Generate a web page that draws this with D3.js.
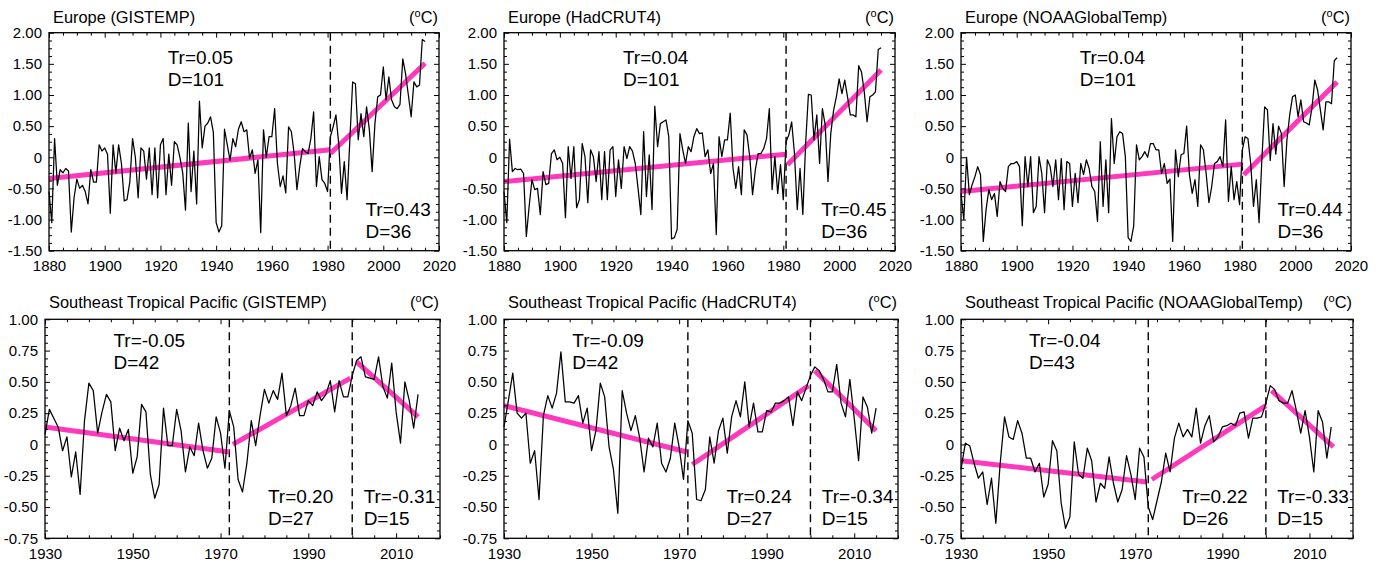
<!DOCTYPE html>
<html><head><meta charset="utf-8">
<script src="https://cdn.jsdelivr.net/npm/d3@7"></script>
<style>
body{margin:0;background:#fff;}
svg{display:block;background:#fff;}
text{font-family:"Liberation Sans", Arial, Helvetica, sans-serif;fill:#000;}
</style></head><body>
<svg id="chart" width="1378" height="562"></svg>
<script>
// ---------------- DATA ----------------
const euroStart = 1880;
const pacStart = 1930;

const euroGISTEMP = [
-0.55,-1.05,0.30,-0.45,-0.20,-0.25,-0.18,-0.22,-1.20,-0.65,
-0.35,-0.50,-0.45,-0.55,-0.75,-0.20,-0.40,-0.40,0.20,0.10,
0.15,0.05,-0.90,0.20,-0.25,0.20,-0.10,-0.70,-0.68,-0.40,
0.30,0.00,-0.65,0.15,0.10,-0.35,0.15,-0.60,0.15,-0.65,
0.20,0.30,-0.60,0.05,-0.45,0.25,0.20,0.00,-0.25,-0.85,
0.55,-0.55,0.10,-0.75,0.90,0.15,0.50,0.55,0.65,0.40,
-1.05,-1.20,-1.10,0.45,0.20,-0.05,0.30,0.17,0.45,0.57,
0.41,0.44,-0.02,0.12,-0.26,-0.04,-1.21,0.44,0.00,0.33,
0.33,0.78,-0.10,-0.47,-0.30,-0.57,0.49,0.41,0.06,-0.52,
-0.15,0.14,0.09,0.06,0.30,0.73,-0.47,0.01,-0.36,-0.42,
-0.55,0.33,0.49,0.68,0.22,-0.58,-0.07,-0.68,0.28,1.21,
1.18,0.28,0.70,0.33,0.81,0.44,-0.23,0.54,0.97,1.00,
1.45,0.92,1.29,0.92,0.81,0.78,0.85,1.58,1.34,1.00,
0.65,1.21,1.13,1.16,1.89,1.86];

const euroHadCRUT4 = [
-0.55,-1.05,0.29,-0.23,-0.18,-0.20,-0.19,-0.26,-1.27,-0.79,
-0.36,-0.52,-0.50,-0.92,-0.23,-0.44,-0.42,0.06,0.12,-0.04,
0.00,-0.10,-0.97,0.17,-0.34,0.17,-0.81,-0.68,0.22,0.01,
-0.73,0.12,0.01,-0.39,0.09,-0.68,0.09,-0.68,0.12,0.17,
-0.63,-0.04,-0.50,0.17,-0.02,0.17,0.10,-0.10,-0.50,-0.92,
0.41,-0.63,0.04,-0.84,0.82,0.17,0.54,0.57,0.60,0.33,
-1.31,-1.29,-1.16,0.38,0.12,-0.10,0.17,0.09,0.33,0.46,
0.38,0.39,0.01,0.12,-0.26,-0.10,-1.24,0.33,0.01,0.28,
0.28,0.71,-0.18,-0.50,-0.15,-0.60,0.44,0.36,0.01,-0.60,
-0.20,0.06,0.06,0.14,0.30,0.78,-0.52,0.01,-0.58,-0.12,
-0.68,0.25,0.36,0.57,0.06,-0.84,-0.18,-0.92,0.22,1.01,
1.00,0.28,0.68,-0.10,0.78,0.52,-0.39,0.38,0.75,0.97,
1.26,1.02,1.24,0.97,0.68,0.68,0.65,1.47,1.37,1.05,
0.57,0.97,1.00,1.05,1.73,1.76];

const euroNOAA = [
-0.58,-1.00,0.00,-0.60,-0.44,-0.31,-0.15,-0.28,-1.35,-0.84,
-0.52,-0.68,-0.58,-0.95,-0.39,-0.50,-0.55,-0.15,-0.10,-0.10,
-0.07,-0.15,-1.10,0.01,-0.47,0.01,-0.89,-0.79,0.01,-0.26,
-0.89,-0.04,-0.15,-0.47,-0.04,-0.68,-0.02,-0.84,-0.07,-0.10,
-0.79,-0.26,-0.73,-0.10,-0.28,-0.04,-0.18,-0.47,-0.55,-1.03,
0.25,-0.79,-0.04,-0.89,0.62,-0.10,0.33,0.41,0.38,0.01,
-1.29,-1.35,-1.10,0.20,-0.04,0.01,0.09,0.00,0.22,0.22,
0.12,0.12,-0.26,-0.10,-0.42,-0.35,-1.35,0.12,-0.31,0.04,
0.06,0.50,-0.28,-0.58,-0.36,-0.79,0.20,0.12,-0.26,-0.73,
-0.47,-0.10,-0.07,0.01,-0.15,0.60,-0.71,-0.15,-0.68,-0.39,
-0.76,0.12,0.33,0.30,-0.10,-0.79,-0.36,-1.05,-0.04,0.81,
0.76,-0.05,0.54,0.05,0.50,0.38,-0.47,0.28,0.68,0.97,
1.00,0.65,0.92,0.57,0.55,0.52,0.80,1.24,1.08,0.76,
0.44,0.89,0.89,0.86,1.55,1.60];

const pacGISTEMP = [
0.08,0.28,0.21,0.14,-0.05,0.06,-0.26,-0.06,-0.40,0.19,
0.49,0.43,0.09,0.26,0.40,0.34,-0.05,0.13,0.03,0.12,
-0.23,-0.10,0.32,0.26,-0.24,-0.43,-0.32,0.29,-0.01,-0.01,
0.28,0.11,-0.22,-0.02,-0.09,0.17,-0.05,-0.19,-0.11,0.22,
0.09,-0.19,0.27,0.14,-0.28,-0.38,-0.15,0.19,-0.01,0.23,
0.44,0.33,0.43,0.36,0.57,0.23,0.31,0.45,0.23,0.23,
0.35,0.31,0.42,0.35,0.40,0.51,0.26,0.51,0.38,0.38,
0.55,0.67,0.70,0.54,0.53,0.52,0.70,0.46,0.37,0.65,
0.26,0.01,0.50,0.35,0.13,0.40];

const pacHadCRUT4 = [
0.14,0.35,0.57,0.25,0.21,0.25,-0.15,-0.05,-0.44,0.23,
0.39,0.29,0.41,0.74,0.34,0.34,0.33,0.39,0.17,0.29,
-0.05,0.11,0.49,0.38,-0.02,-0.20,-0.55,0.43,0.25,0.11,
0.23,0.05,-0.22,0.05,-0.02,0.17,-0.15,-0.22,-0.11,0.17,
-0.02,-0.28,0.19,0.09,-0.44,-0.45,-0.36,0.06,-0.15,0.11,
0.21,-0.07,0.22,0.35,0.22,0.50,0.14,0.33,0.10,0.10,
0.27,0.26,0.33,0.33,0.35,0.38,0.15,0.42,0.35,0.45,
0.55,0.62,0.59,0.52,0.42,0.42,0.64,0.33,0.22,0.52,
0.21,-0.13,0.38,0.30,0.09,0.29];

const pacNOAA = [
-0.20,0.01,-0.01,-0.15,-0.27,-0.22,-0.48,-0.27,-0.63,-0.15,
0.22,0.06,0.04,0.19,0.09,-0.11,-0.11,-0.22,-0.15,-0.42,
-0.32,0.03,-0.05,-0.47,-0.67,-0.58,0.02,-0.24,-0.27,-0.03,
-0.13,-0.46,-0.31,-0.35,-0.10,-0.31,-0.46,-0.36,-0.09,-0.24,
-0.44,-0.03,-0.10,-0.50,-0.60,-0.45,-0.30,-0.07,-0.22,0.05,
0.17,0.06,0.12,0.06,0.29,0.01,0.15,0.23,0.02,0.06,
0.14,0.15,0.17,0.15,0.25,0.26,0.05,0.21,0.21,0.22,
0.33,0.47,0.44,0.35,0.33,0.33,0.43,0.27,0.09,0.27,
0.06,-0.22,0.27,0.18,-0.11,0.14];

// trend segments: [x0, y0, x1, y1]
const euroTrendGISTEMP = [[1880,-0.34,1981,0.12],[1981,0.06,2015,1.51]];
const euroTrendHadCRUT4 = [[1880,-0.39,1981,0.05],[1981.5,-0.12,2015,1.40]];
const euroTrendNOAA = [[1880,-0.55,1981,-0.11],[1981.5,-0.28,2015,1.21]];
const pacTrendGISTEMP = [[1930,0.14,1972,-0.06],[1972.8,0.00,1999.6,0.53],[2001,0.66,2015,0.22]];
const pacTrendHadCRUT4 = [[1930,0.31,1971.8,-0.06],[1973,-0.16,1999.6,0.47],[2001,0.59,2015,0.11]];
const pacTrendNOAA = [[1930,-0.13,1972.7,-0.30],[1973.8,-0.28,2000,0.31],[2001.3,0.43,2015.5,-0.02]];

// breakpoints (dashed lines)
const euroBreaks = [1981];
const pacBreaksGISTEMP = [1972, 2000];
const pacBreaksHadCRUT4 = [1972, 2000];
const pacBreaksNOAA = [1973, 2000];

// trend annotations
const euroNotesGISTEMP = [["Tr=0.05","D=101"],["Tr=0.43","D=36"]];
const euroNotesHadCRUT4 = [["Tr=0.04","D=101"],["Tr=0.45","D=36"]];
const euroNotesNOAA = [["Tr=0.04","D=101"],["Tr=0.44","D=36"]];
const pacNotesGISTEMP = [["Tr=-0.05","D=42"],["Tr=0.20","D=27"],["Tr=-0.31","D=15"]];
const pacNotesHadCRUT4 = [["Tr=-0.09","D=42"],["Tr=0.24","D=27"],["Tr=-0.34","D=15"]];
const pacNotesNOAA = [["Tr=-0.04","D=43"],["Tr=0.22","D=26"],["Tr=-0.33","D=15"]];

const titles = ["Europe (GISTEMP)","Europe (HadCRUT4)","Europe (NOAAGlobalTemp)",
  "Southeast Tropical Pacific (GISTEMP)","Southeast Tropical Pacific (HadCRUT4)","Southeast Tropical Pacific (NOAAGlobalTemp)"];

// ticks
const euroXTicks = [1880,1900,1920,1940,1960,1980,2000,2020];
const euroYTicks = [-1.5,-1,-0.5,0,0.5,1,1.5,2];
const euroYTickLabels = ["-1.50","-1.00","-0.50","0","0.50","1.00","1.50","2.00"];
const pacXTicks = [1930,1950,1970,1990,2010];
const pacYTicks = [-0.75,-0.5,-0.25,0,0.25,0.5,0.75,1];
const pacYTickLabels = ["-0.75","-0.50","-0.25","0","0.25","0.50","0.75","1.00"];

// ---------------- LAYOUT ----------------
const rows = [
  {top:32.7, bottom:250.7, xDomain:[1880,2020], yDomain:[-1.5,2], xTicks:euroXTicks, yTicks:euroYTicks,
   yLabels:euroYTickLabels, xMinor:5, yMinor:0.125, titleY:23,
   notePos:[[1922.6,1.49],[1993.6,-0.94]]},
  {top:319.3, bottom:538.3, xDomain:[1930,2020], yDomain:[-0.75,1], xTicks:pacXTicks, yTicks:pacYTicks,
   yLabels:pacYTickLabels, xMinor:5, yMinor:0.0625, titleY:308,
   notePos:[[1945.6,0.78],[1980.8,-0.47],[2002.6,-0.47]]}
];
const panels = [
  {row:0,left:49,right:439,data:euroGISTEMP,start:euroStart,trend:euroTrendGISTEMP,breaks:euroBreaks,notes:euroNotesGISTEMP,title:titles[0]},
  {row:0,left:504,right:895,data:euroHadCRUT4,start:euroStart,trend:euroTrendHadCRUT4,breaks:euroBreaks,notes:euroNotesHadCRUT4,title:titles[1]},
  {row:0,left:961,right:1351,data:euroNOAA,start:euroStart,trend:euroTrendNOAA,breaks:euroBreaks,notes:euroNotesNOAA,title:titles[2]},
  {row:1,left:45,right:440,data:pacGISTEMP,start:pacStart,trend:pacTrendGISTEMP,breaks:pacBreaksGISTEMP,notes:pacNotesGISTEMP,title:titles[3]},
  {row:1,left:504,right:898,data:pacHadCRUT4,start:pacStart,trend:pacTrendHadCRUT4,breaks:pacBreaksHadCRUT4,notes:pacNotesHadCRUT4,title:titles[4]},
  {row:1,left:961,right:1353,data:pacNOAA,start:pacStart,trend:pacTrendNOAA,breaks:pacBreaksNOAA,notes:pacNotesNOAA,title:titles[5]}
];

const PINK = "#ff38bd";
const MAJ = 5, MIN = 3;
const svg = d3.select("#chart");

function minorVals(d0, d1, step, majors){
  const out = [];
  const n = Math.round((d1 - d0) / step);
  for (let i = 0; i <= n; i++) {
    const v = d0 + i * step;
    if (!majors.some(m => Math.abs(m - v) < 1e-6)) out.push(v);
  }
  return out;
}

function styleAxis(g){
  g.select(".domain").remove();
  g.attr("font-family", '"Liberation Sans", Arial, Helvetica, sans-serif').attr("font-size", 15);
  g.selectAll(".tick line").attr("stroke", "#000").attr("stroke-width", 1);
  g.selectAll(".tick text").attr("fill", "#000");
}

panels.forEach(p => {
  const r = rows[p.row];
  const x = d3.scaleLinear().domain(r.xDomain).range([p.left, p.right]);
  const y = d3.scaleLinear().domain(r.yDomain).range([r.bottom, r.top]);
  const g = svg.append("g");

  // dashed break lines
  p.breaks.forEach(b => {
    g.append("line").attr("x1", x(b)).attr("x2", x(b)).attr("y1", r.top).attr("y2", r.bottom)
      .attr("stroke", "#000").attr("stroke-width", 1.4).attr("stroke-dasharray", "8,5");
  });

  // trend segments
  p.trend.forEach(s => {
    g.append("line").attr("x1", x(s[0])).attr("y1", y(s[1])).attr("x2", x(s[2])).attr("y2", y(s[3]))
      .attr("stroke", PINK).attr("stroke-width", 5);
  });

  // data line
  const line = d3.line().x((d, i) => x(p.start + i)).y(d => y(d));
  g.append("path").datum(p.data).attr("d", line).attr("fill", "none")
    .attr("stroke", "#000").attr("stroke-width", 1.25).attr("stroke-linejoin", "round");

  // axes (ticks inward)
  const xMinor = minorVals(r.xDomain[0], r.xDomain[1], r.xMinor, r.xTicks);
  const yMinor = minorVals(r.yDomain[0], r.yDomain[1], r.yMinor, r.yTicks);

  g.append("g").attr("transform", `translate(0,${r.bottom})`)
    .call(d3.axisBottom(x).tickValues(r.xTicks).tickSize(-MAJ).tickPadding(10).tickFormat(d3.format("d"))).call(styleAxis);
  g.append("g").attr("transform", `translate(0,${r.bottom})`)
    .call(d3.axisBottom(x).tickValues(xMinor).tickSize(-MIN).tickFormat("")).call(styleAxis);
  g.append("g").attr("transform", `translate(0,${r.top})`)
    .call(d3.axisTop(x).tickValues(r.xTicks).tickSize(-MAJ).tickFormat("")).call(styleAxis);
  g.append("g").attr("transform", `translate(0,${r.top})`)
    .call(d3.axisTop(x).tickValues(xMinor).tickSize(-MIN).tickFormat("")).call(styleAxis);

  g.append("g").attr("transform", `translate(${p.left},0)`)
    .call(d3.axisLeft(y).tickValues(r.yTicks).tickSize(-MAJ).tickPadding(7)
      .tickFormat((d, i) => r.yLabels[i])).call(styleAxis);
  g.append("g").attr("transform", `translate(${p.left},0)`)
    .call(d3.axisLeft(y).tickValues(yMinor).tickSize(-MIN).tickFormat("")).call(styleAxis);
  g.append("g").attr("transform", `translate(${p.right},0)`)
    .call(d3.axisRight(y).tickValues(r.yTicks).tickSize(-MAJ).tickFormat("")).call(styleAxis);
  g.append("g").attr("transform", `translate(${p.right},0)`)
    .call(d3.axisRight(y).tickValues(yMinor).tickSize(-MIN).tickFormat("")).call(styleAxis);

  // frame
  g.append("rect").attr("x", p.left).attr("y", r.top).attr("width", p.right - p.left).attr("height", r.bottom - r.top)
    .attr("fill", "none").attr("stroke", "#000").attr("stroke-width", 1.3);

  // title + unit
  g.append("text").attr("x", p.left + 4).attr("y", r.titleY).attr("font-size", 16.4).text(p.title);
  const u = g.append("text").attr("x", p.right - 1).attr("y", r.titleY).attr("font-size", 16.4).attr("text-anchor", "end");
  u.append("tspan").text("(");
  u.append("tspan").attr("font-size", 11).attr("dy", -6).text("o");
  u.append("tspan").attr("dy", 6).text("C)");

  // annotations
  p.notes.forEach((n, i) => {
    const pos = r.notePos[i];
    const tx = x(pos[0]), ty = y(pos[1]);
    g.append("text").attr("x", tx).attr("y", ty).attr("font-size", 19).text(n[0]);
    g.append("text").attr("x", tx).attr("y", ty + 22).attr("font-size", 19).text(n[1]);
  });
});
</script>
</body></html>
